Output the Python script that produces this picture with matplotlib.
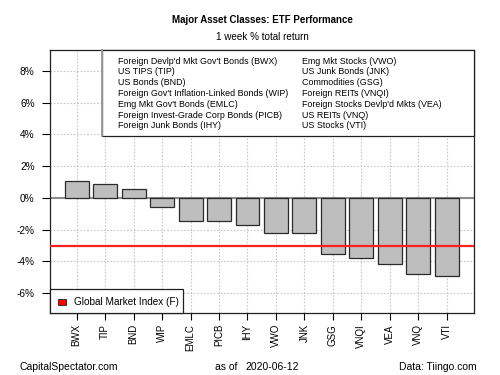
import matplotlib
matplotlib.use("Agg")
import matplotlib.pyplot as plt
from matplotlib.patches import Rectangle
import numpy as np

plt.rcParams['font.family'] = ['Liberation Sans', 'DejaVu Sans']

tickers = ["BWX", "TIP", "BND", "WIP", "EMLC", "PICB", "IHY", "VWO", "JNK",
           "GSG", "VNQI", "VEA", "VNQ", "VTI"]
returns = [1.06, 0.87, 0.53, -0.59, -1.48, -1.48, -1.69, -2.22, -2.22,
           -3.53, -3.81, -4.17, -4.80, -4.93]
global_index = -3.05
legend_col1 = ["Foreign Devlp'd Mkt Gov't Bonds (BWX)", "US TIPS (TIP)", "US Bonds (BND)",
               "Foreign Gov't Inflation-Linked Bonds (WIP)", "Emg Mkt Gov't Bonds (EMLC)",
               "Foreign Invest-Grade Corp Bonds (PICB)", "Foreign Junk Bonds (IHY)"]
legend_col2 = ["Emg Mkt Stocks (VWO)", "US Junk Bonds (JNK)", "Commodities (GSG)",
               "Foreign REITs (VNQI)", "Foreign Stocks Devlp'd Mkts (VEA)",
               "US REITs (VNQ)", "US Stocks (VTI)"]
yticks = [-6, -4, -2, 0, 2, 4, 6, 8]

W, H = 500, 375
fig = plt.figure(figsize=(5, 3.75), dpi=100)
ax = fig.add_axes([50 / W, 1 - 313 / H, 424 / W, 263 / H])

x = np.arange(len(tickers))
ax.set_xlim(-0.94, len(tickers) - 1 + 0.96)
ax.set_ylim(-7.27, 9.33)

# grid
for yv in yticks:
    ax.axhline(yv, color='#C8C8C8', lw=0.8, ls=(0, (1.5, 1.5)), zorder=0)
for xv in x:
    ax.axvline(xv, color='#C8C8C8', lw=0.8, ls=(0, (1.5, 1.5)), zorder=0)

ax.axhline(0, color='#8C8C8C', lw=1.5, zorder=1)
ax.bar(x, returns, width=0.84, color='#BEBEBE', edgecolor='#2A2A2A', lw=0.9, zorder=2)
ax.axhline(global_index, color='#FF2020', lw=1.6, zorder=3)

ax.set_yticks(yticks)
ax.set_yticklabels([f"{v}%" for v in yticks], fontsize=7.3)
ax.set_xticks(x)
ax.set_xticklabels(tickers, rotation=90, fontsize=7)
ax.tick_params(axis='y', length=6, width=0.8, pad=5)
ax.tick_params(axis='x', length=5, width=0.8, pad=3)
for s in ax.spines.values():
    s.set_linewidth(0.9)
    s.set_color('#202020')

# top legend box (axes coords)
lx0 = (102.3 - 50) / 424
ly0 = (313 - 135.7) / 263
ax.add_patch(Rectangle((lx0, ly0), 1 - lx0, 1 - ly0, transform=ax.transAxes,
                       facecolor='white', edgecolor='#202020', lw=0.9, zorder=5, clip_on=False))
ax.plot([lx0, lx0], [ly0, 1], transform=ax.transAxes, color='#9A9A9A', lw=1.3, zorder=6, clip_on=False)
c1x = (117.7 - 50) / 424
c2x = (301.7 - 50) / 424
row_y0 = 61
row_dy = 10.8
for i, (a, b) in enumerate(zip(legend_col1, legend_col2)):
    yy = (313 - (row_y0 + i * row_dy)) / 263
    ax.text(c1x, yy, a, transform=ax.transAxes, fontsize=6.4, va='center', ha='left', zorder=7)
    ax.text(c2x, yy, b, transform=ax.transAxes, fontsize=6.4, va='center', ha='left', zorder=7)

# bottom legend box
bx1 = (183.3 - 50) / 424
by1 = (313 - 289.3) / 263
ax.add_patch(Rectangle((0, 0), bx1, by1, transform=ax.transAxes,
                       facecolor='white', edgecolor='#202020', lw=0.9, zorder=5, clip_on=False))
ax.add_patch(Rectangle(((58.3 - 50) / 424, (313 - 304.5) / 263), 7.4 / 424, 5.5 / 263,
                       transform=ax.transAxes, facecolor='#FF0000', edgecolor='#202020', lw=0.6, zorder=7))
ax.text((74.3 - 50) / 424, (313 - 301.7) / 263, "Global Market Index (F)", transform=ax.transAxes,
        fontsize=7.2, va='center', ha='left', zorder=7)

# titles and footer
fig.text(262 / W, 1 - 20 / H, "Major Asset Classes: ETF Performance", fontsize=7.0,
         fontweight='bold', ha='center', va='center')
fig.text(262 / W, 1 - 37 / H, "1 week % total return", fontsize=7.1, ha='center', va='center')
fig.text(20 / W, 1 - 367 / H, "CapitalSpectator.com", fontsize=7.5, ha='left', va='center')
fig.text(215 / W, 1 - 367 / H, "as of", fontsize=7.5, ha='left', va='center')
fig.text(245 / W, 1 - 367 / H, "2020-06-12", fontsize=7.5, ha='left', va='center')
fig.text(477 / W, 1 - 367 / H, "Data: Tiingo.com", fontsize=7.5, ha='right', va='center')

fig.savefig("out.png", dpi=100)
